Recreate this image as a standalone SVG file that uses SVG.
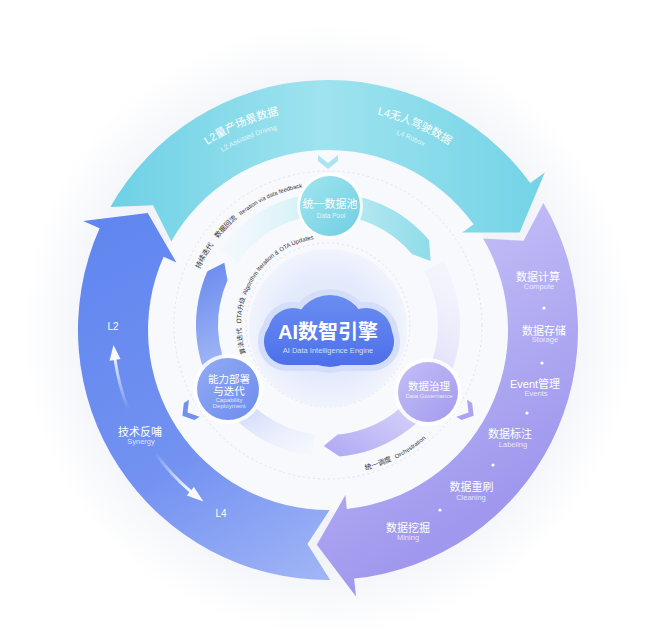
<svg xmlns="http://www.w3.org/2000/svg" width="659" height="631" viewBox="0 0 659 631">
<style>
 text{font-family:"Liberation Sans","Noto Sans CJK SC",sans-serif;}
 .w{fill:#ffffff;}
 .ws{fill:#ffffff;fill-opacity:.78;}
 .arc{fill:#2f333c;}
 .mid{text-anchor:middle;}
 .dash{fill:none;stroke:#d6dcea;stroke-width:.8;stroke-dasharray:2 3;}
 .dot{fill:#ffffff;}
</style>
<defs>
 <radialGradient id="bgGlow" cx="328" cy="330" r="305" gradientUnits="userSpaceOnUse">
  <stop offset="0.75" stop-color="#f1f3f9"/>
  <stop offset="1" stop-color="#ffffff"/>
 </radialGradient>
 <linearGradient id="gCyan" x1="100" y1="200" x2="545" y2="200" gradientUnits="userSpaceOnUse">
  <stop offset="0" stop-color="#6bd0e4"/>
  <stop offset="0.5" stop-color="#9fe3ef"/>
  <stop offset="1" stop-color="#72d3e6"/>
 </linearGradient>
 <linearGradient id="gPurple" x1="440" y1="210" x2="590" y2="440" gradientUnits="userSpaceOnUse">
  <stop offset="0" stop-color="#c6c1f7"/>
  <stop offset="1" stop-color="#9f98ee"/>
 </linearGradient>
 <linearGradient id="gBlue" x1="100" y1="220" x2="310" y2="580" gradientUnits="userSpaceOnUse">
  <stop offset="0" stop-color="#6086ef"/>
  <stop offset="0.6" stop-color="#7392f1"/>
  <stop offset="1" stop-color="#9fb4f6"/>
 </linearGradient>
 <linearGradient id="giCyan" x1="226" y1="258" x2="430" y2="258" gradientUnits="userSpaceOnUse">
  <stop offset="0" stop-color="#e4f6fa" stop-opacity="0.2"/>
  <stop offset="0.45" stop-color="#c8eef5"/>
  <stop offset="1" stop-color="#8fdce9"/>
 </linearGradient>
 <linearGradient id="giPurple" x1="434" y1="266" x2="326" y2="446" gradientUnits="userSpaceOnUse">
  <stop offset="0" stop-color="#ece9fc" stop-opacity="0.3"/>
  <stop offset="1" stop-color="#b2acf4"/>
 </linearGradient>
 <linearGradient id="giBlue" x1="315" y1="445" x2="223" y2="264" gradientUnits="userSpaceOnUse">
  <stop offset="0" stop-color="#e6ecfd" stop-opacity="0.2"/>
  <stop offset="0.5" stop-color="#a9bcf6"/>
  <stop offset="1" stop-color="#6f8ff0"/>
 </linearGradient>
 <linearGradient id="gUp" x1="128" y1="410" x2="114" y2="352" gradientUnits="userSpaceOnUse">
  <stop offset="0" stop-color="#ffffff" stop-opacity="0"/>
  <stop offset="1" stop-color="#ffffff" stop-opacity="0.95"/>
 </linearGradient>
 <linearGradient id="gDown" x1="156" y1="455" x2="190" y2="491" gradientUnits="userSpaceOnUse">
  <stop offset="0" stop-color="#ffffff" stop-opacity="0.05"/>
  <stop offset="1" stop-color="#ffffff" stop-opacity="0.95"/>
 </linearGradient>
 <linearGradient id="gCloud" x1="0" y1="295" x2="0" y2="365" gradientUnits="userSpaceOnUse">
  <stop offset="0" stop-color="#6a8df2"/>
  <stop offset="1" stop-color="#4d70ea"/>
 </linearGradient>
 <radialGradient id="gHalo" cx="328" cy="328" r="80" gradientUnits="userSpaceOnUse">
  <stop offset="0.6" stop-color="#e3eafc"/>
  <stop offset="1" stop-color="#f1f4fd"/>
 </radialGradient>
 <linearGradient id="nCyan" x1="0" y1="0" x2="1" y2="1">
  <stop offset="0" stop-color="#a2e5ef"/>
  <stop offset="1" stop-color="#6fcfe3"/>
 </linearGradient>
 <linearGradient id="nBlue" x1="0" y1="0" x2="1" y2="1">
  <stop offset="0" stop-color="#92abf3"/>
  <stop offset="1" stop-color="#6c8cef"/>
 </linearGradient>
 <linearGradient id="nPurple" x1="0" y1="0" x2="1" y2="1">
  <stop offset="0" stop-color="#c3bef6"/>
  <stop offset="1" stop-color="#a29bef"/>
 </linearGradient>
 <path id="tpTopCn" d="M 120.33 254.41 A 221 221 0 0 1 535.67 254.41"/>
 <path id="tpTopEn" d="M 133.48 259.20 A 207 207 0 0 1 522.52 259.20"/>
 <path id="tpMid" d="M 192.77 288.77 A 140 140 0 0 1 340.2 185.53"/>
 <path id="tpIn" d="M 249.15 361.77 A 87 87 0 0 1 328 238"/>
 <path id="tpBot" d="M 354.05 472.72 A 150 150 0 0 0 450.87 411.04"/>
 <path id="chev" d="M -10 -5 L 0 3 L 10 -5 L 10 1 L 0 9 L -10 1 Z"/>
</defs>

<rect width="659" height="631" fill="#ffffff"/>
<circle cx="328" cy="330" r="305" fill="url(#bgGlow)"/>
<circle cx="328" cy="330" r="182" fill="#f8f9fd"/>
<circle cx="328" cy="325" r="154" class="dash"/>
<circle cx="328" cy="325" r="82" class="dash"/>

<g id="connectors">
 <g id="outer-ring">
  <path id="band-cyan" fill="url(#gCyan)" d="M 110.4 206.9 L 153.0 205.2 L 171.3 241.4 A 180 180 0 0 1 473.6 224.2 L 462.3 232.4 L 519.6 232.4 L 544.8 172.5 L 530.3 183.1 A 250 250 0 0 0 110.4 206.9 Z"/>
  <path id="band-purple" fill="url(#gPurple)" d="M 543.4 203.1 L 523.6 240.8 L 483.1 238.6 A 180 180 0 0 1 346.8 509.0 L 345.4 495.1 L 316.8 544.7 L 356.0 596.5 L 354.1 578.6 A 250 250 0 0 0 543.4 203.1 Z"/>
  <path id="band-blue" fill="url(#gBlue)" d="M 330.2 580.0 L 307.4 544.0 L 329.6 510.0 A 180 180 0 0 1 163.6 256.8 L 176.4 262.5 L 147.7 212.9 L 83.2 221.0 L 99.6 228.3 A 250 250 0 0 0 330.2 580.0 Z"/>
 </g>
 <g id="inner-ring">
  <path fill="url(#giCyan)" d="M 219.9 249.3 A 132 132 0 0 1 429.1 240.2 L 430.6 260.9 L 412.3 254.3 A 110 110 0 0 0 237.9 261.9 Z"/>
  <path fill="url(#giPurple)" d="M 443.5 261.0 A 132 132 0 0 1 339.5 456.5 L 323.8 445.9 L 337.6 434.6 A 110 110 0 0 0 424.2 271.7 Z"/>
  <path fill="url(#giBlue)" d="M 311.9 456.0 A 132 132 0 0 1 207.4 271.3 L 224.3 262.7 L 227.5 280.3 A 110 110 0 0 0 314.6 434.2 Z"/>
 </g>
 <g id="chevrons">
  <use href="#chev" transform="translate(328 160)" fill="#a9e6f1"/>
  <use href="#chev" transform="translate(190 411) rotate(58)" fill="#7190f0"/>
  <use href="#chev" transform="translate(466 411) rotate(-58)" fill="#aaa4f2"/>
 </g>
 <g id="synergy-arrows">
  <path d="M 128.66 410.54 A 215 215 0 0 1 115.1 359.9" fill="none" stroke="url(#gUp)" stroke-width="3" stroke-linecap="round"/>
  <path d="M 113.5 345.0 L 109.6 360.7 L 120.5 359.1 Z" fill="#ffffff" fill-opacity="0.95"/>
  <path d="M 156.49 454.61 A 212 212 0 0 0 190.3 491.2" fill="none" stroke="url(#gDown)" stroke-width="3" stroke-linecap="round"/>
  <path d="M 203.4 501.5 L 186.75 495.39 L 193.89 487.03 Z" fill="#ffffff" fill-opacity="0.95"/>
 </g>
</g>

<g id="arc-labels">
 <text class="arc" font-size="7"><textPath href="#tpMid" startOffset="21">持续迭代</textPath></text>
 <text class="arc" font-size="7"><textPath href="#tpMid" startOffset="56.5">数据回流</textPath></text>
 <text class="arc" font-size="5.8"><textPath href="#tpMid" startOffset="89">Iteration via data feedback</textPath></text>
 <text class="arc" font-size="6.5"><textPath href="#tpIn" startOffset="9.1">算法迭代</textPath></text>
 <text class="arc" font-size="6.5"><textPath href="#tpIn" startOffset="39.5">OTA升级</textPath></text>
 <text class="arc" font-size="6"><textPath href="#tpIn" startOffset="68.3">Algorithm Iteration &amp; OTA Updates</textPath></text>
 <text class="arc" font-size="7"><textPath href="#tpBot" startOffset="11.8">统一调度</textPath></text>
 <text class="arc" font-size="6"><textPath href="#tpBot" startOffset="44.5">Orchestration</textPath></text>
</g>

<g id="band-labels">
 <text class="w mid" font-size="11"><textPath href="#tpTopCn" startOffset="181.3">L2量产场景数据</textPath></text>
 <text class="ws mid" font-size="7"><textPath href="#tpTopEn" startOffset="171.6">L2 Assisted Driving</textPath></text>
 <text class="w mid" font-size="11"><textPath href="#tpTopCn" startOffset="358.7">L4无人驾驶数据</textPath></text>
 <text class="ws mid" font-size="7"><textPath href="#tpTopEn" startOffset="337.1">L4 Robox</textPath></text>

 <text class="w mid" x="538" y="281" font-size="11">数据计算</text>
 <text class="ws mid" x="539" y="289" font-size="7.5">Compute</text>
 <circle class="dot" cx="544" cy="308" r="1.6"/>
 <text class="w mid" x="544" y="334.5" font-size="11">数据存储</text>
 <text class="ws mid" x="545" y="342" font-size="7.5">Storage</text>
 <circle class="dot" cx="542" cy="363" r="1.6"/>
 <text class="w mid" x="535" y="388" font-size="11">Event管理</text>
 <text class="ws mid" x="536" y="395.5" font-size="7.5">Events</text>
 <circle class="dot" cx="527" cy="413" r="1.6"/>
 <text class="w mid" x="510" y="438" font-size="11">数据标注</text>
 <text class="ws mid" x="513" y="447" font-size="7.5">Labeling</text>
 <circle class="dot" cx="493" cy="465" r="1.6"/>
 <text class="w mid" x="471.5" y="491" font-size="11">数据重刷</text>
 <text class="ws mid" x="471" y="500" font-size="7.5">Cleaning</text>
 <circle class="dot" cx="440" cy="510" r="1.6"/>
 <text class="w mid" x="408" y="532" font-size="11">数据挖掘</text>
 <text class="ws mid" x="408" y="540" font-size="7.5">Mining</text>

 <text class="w mid" x="113" y="330" font-size="10">L2</text>
 <text class="w mid" x="140" y="436" font-size="11">技术反哺</text>
 <text class="ws mid" x="141" y="443.5" font-size="7.5">Synergy</text>
 <text class="w mid" x="221" y="517" font-size="10">L4</text>
</g>

<g id="node-engine">
 <circle cx="328" cy="328" r="79" fill="url(#gHalo)"/>
 <g fill="#d4defb" stroke="#d4defb" stroke-width="12">
  <rect x="264" y="318" width="130" height="47" rx="23"/>
  <circle cx="293" cy="333" r="25"/>
  <circle cx="330" cy="331" r="36"/>
  <circle cx="366" cy="334" r="26"/>
 </g>
 <g fill="url(#gCloud)">
  <rect x="264" y="318" width="130" height="47" rx="23"/>
  <circle cx="293" cy="333" r="25"/>
  <circle cx="330" cy="331" r="36"/>
  <circle cx="366" cy="334" r="26"/>
 </g>
 <text class="w mid" x="328" y="338.5" font-size="20" font-weight="bold">AI数智引擎</text>
 <text class="ws mid" x="328" y="353" font-size="7.5">AI Data Intelligence Engine</text>
</g>

<g id="node-data-pool">
 <circle cx="330" cy="206" r="33" fill="#ffffff" fill-opacity="0.85"/>
 <circle cx="330" cy="206" r="30" fill="url(#nCyan)"/>
 <text class="w mid" x="330" y="208" font-size="11">统一数据池</text>
 <text class="ws mid" x="331" y="217.5" font-size="6.5">Data Pool</text>
</g>

<g id="node-capability">
 <circle cx="228" cy="389" r="35" fill="#ffffff" fill-opacity="0.85"/>
 <circle cx="228" cy="389" r="31" fill="url(#nBlue)"/>
 <text class="w mid" x="229" y="383" font-size="10.5">能力部署</text>
 <text class="w mid" x="229" y="395" font-size="10.5">与迭代</text>
 <text class="ws mid" x="229" y="402" font-size="6.2">Capability</text>
 <text class="ws mid" x="229" y="408" font-size="6.2">Deployment</text>
</g>

<g id="node-governance">
 <circle cx="428" cy="392" r="34" fill="#ffffff" fill-opacity="0.85"/>
 <circle cx="428" cy="392" r="30" fill="url(#nPurple)"/>
 <text class="w mid" x="429" y="389.5" font-size="10.5">数据治理</text>
 <text class="ws mid" x="429" y="398" font-size="6">Data Governance</text>
</g>
</svg>
